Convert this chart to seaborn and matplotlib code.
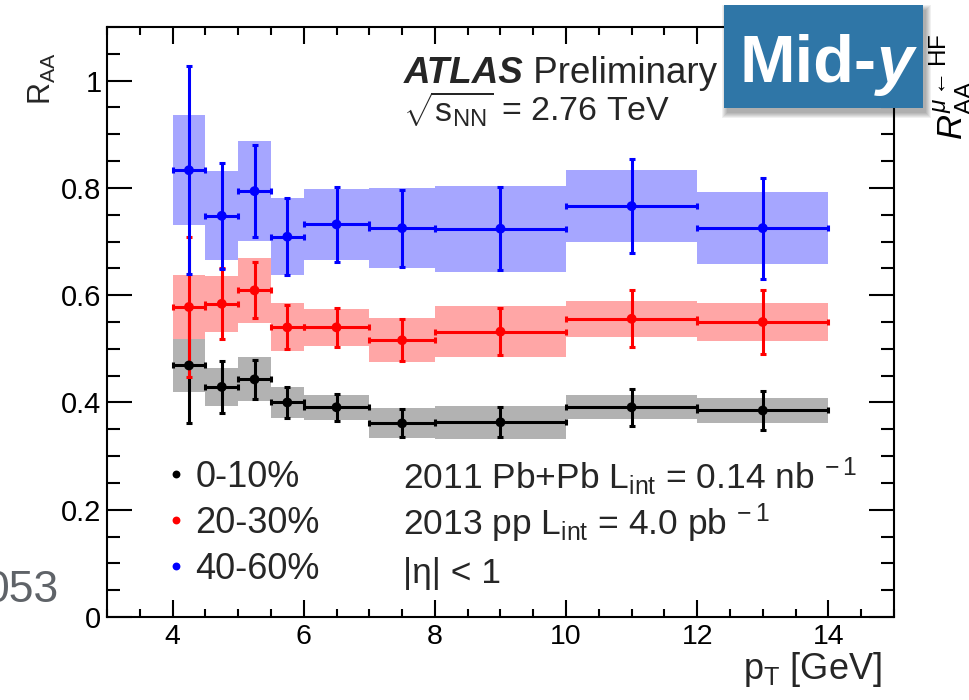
import numpy as np
import pandas as pd
import matplotlib
matplotlib.use("Agg")
import matplotlib.pyplot as plt
from matplotlib.patches import Rectangle
from matplotlib.text import Annotation
from matplotlib.ticker import MultipleLocator, FuncFormatter
import seaborn as sns

# pT bin edges [GeV]
pt_edges = [4.0, 4.5, 5.0, 5.5, 6.0, 7.0, 8.0, 10.0, 12.0, 14.0]

centralities = ["0-10%", "20-30%", "40-60%"]
colors = ["black", "red", "blue"]
box_alpha = [0.30, 0.35, 0.35]

# R_AA values with statistical and systematic uncertainties
raa_0_10 = [0.469, 0.429, 0.443, 0.400, 0.391, 0.361, 0.363, 0.391, 0.385]
stat_0_10 = [0.107, 0.048, 0.036, 0.029, 0.025, 0.026, 0.028, 0.035, 0.037]
syst_0_10 = [0.049, 0.036, 0.041, 0.029, 0.023, 0.028, 0.031, 0.022, 0.024]

raa_20_30 = [0.578, 0.584, 0.609, 0.540, 0.540, 0.516, 0.532, 0.556, 0.550]
stat_20_30 = [0.130, 0.066, 0.052, 0.041, 0.037, 0.039, 0.044, 0.053, 0.059]
syst_20_30 = [0.060, 0.052, 0.060, 0.045, 0.034, 0.041, 0.047, 0.034, 0.036]

raa_40_60 = [0.833, 0.748, 0.794, 0.709, 0.732, 0.725, 0.724, 0.766, 0.725]
stat_40_60 = [0.194, 0.099, 0.086, 0.072, 0.070, 0.072, 0.077, 0.088, 0.094]
syst_40_60 = [0.103, 0.083, 0.093, 0.072, 0.066, 0.075, 0.080, 0.067, 0.067]

y_ticks = [0, 0.2, 0.4, 0.6, 0.8, 1.0]
x_ticks = [4, 6, 8, 10, 12, 14]

values = [raa_0_10, raa_20_30, raa_40_60]
stats = [stat_0_10, stat_20_30, stat_40_60]
systs = [syst_0_10, syst_20_30, syst_40_60]

edges = np.array(pt_edges)
centers = 0.5 * (edges[:-1] + edges[1:])
widths = edges[1:] - edges[:-1]

df = pd.concat(
    [pd.DataFrame({"pT": centers, "RAA": v, "Centrality": c})
     for v, c in zip(values, centralities)],
    ignore_index=True,
)

sns.set_theme(style="ticks")
plt.rcParams["font.family"] = ["Liberation Sans", "DejaVu Sans"]
plt.rcParams["mathtext.fontset"] = "custom"
plt.rcParams["mathtext.rm"] = "Liberation Sans"
plt.rcParams["mathtext.it"] = "Liberation Sans:italic"
plt.rcParams["mathtext.bf"] = "Liberation Sans:bold"
plt.rcParams["axes.linewidth"] = 1.5

fig = plt.figure(figsize=(9.7, 7.0), dpi=100)
ax = fig.add_axes([0.1103, 0.1186, 0.8113, 0.8428])

# systematic uncertainty boxes
for v, s, col, a in zip(values, systs, colors, box_alpha):
    v = np.array(v)
    s = np.array(s)
    ax.bar(centers, 2 * s, bottom=v - s, width=widths, color=col,
           alpha=a, linewidth=0, zorder=1)

# statistical error bars
for i, (v, e, col) in enumerate(zip(values, stats, colors)):
    ax.errorbar(centers, v, xerr=widths / 2, yerr=e, fmt="none",
                ecolor=col, elinewidth=2.2, capsize=2.2, capthick=2.2,
                zorder=3 + i)

sns.scatterplot(data=df, x="pT", y="RAA", hue="Centrality",
                hue_order=centralities, palette=dict(zip(centralities, colors)),
                s=50, linewidth=0, zorder=8, ax=ax)

ax.set_xlim(3, 15)
ax.set_ylim(0, 1.1)
ax.set_xticks(x_ticks)
ax.set_yticks(y_ticks)
ax.xaxis.set_minor_locator(MultipleLocator(0.5))
ax.yaxis.set_minor_locator(MultipleLocator(0.05))
ax.yaxis.set_major_formatter(FuncFormatter(lambda v, p: f"{v:g}"))
ax.tick_params(axis="both", which="both", direction="in", top=True,
               right=True, width=1.5, colors="black")
ax.tick_params(axis="x", which="major", length=12, pad=5, labelsize=20.5)
ax.tick_params(axis="x", which="minor", length=6)
ax.tick_params(axis="y", which="major", length=18, pad=4, labelsize=21)
ax.tick_params(axis="y", which="minor", length=9.4)
for sp in ax.spines.values():
    sp.set_color("black")
    sp.set_linewidth(1.5)

ax.set_xlabel(r"p$_{\mathrm{T}}$ [GeV]", fontsize=26, loc="right")
ax.xaxis.set_label_coords(0.985, -0.056)
ax.set_ylabel(r"R$_{\mathrm{AA}}$", fontsize=22, loc="top")
ax.yaxis.set_label_coords(-0.062, 0.958)

sns.move_legend(ax, "center left", bbox_to_anchor=(0.0759, 0.159),
                frameon=False, title=None, fontsize=26, handlelength=0.5,
                handletextpad=0.3, labelspacing=0.30, borderpad=0,
                borderaxespad=0, markerscale=0.8)

# experiment labels
t_atlas = ax.text(0.377, 0.905, "ATLAS", transform=ax.transAxes, fontsize=26.5,
                  fontweight="bold", fontstyle="italic", va="baseline")
ax.annotate(" Preliminary", xy=(1, 0), xycoords=t_atlas, va="bottom",
            ha="left", fontsize=26.5)
ax.text(0.376, 0.839, r"$\sqrt{\mathrm{s}_{\mathrm{NN}}}$ = 2.76 TeV",
        transform=ax.transAxes, fontsize=24.5, va="baseline")
ax.text(0.376, 0.217, r"2011 Pb+Pb L$_{\mathrm{int}}$ = 0.14 nb$^{\;-1}$",
        transform=ax.transAxes, fontsize=25.5, va="baseline")
ax.text(0.376, 0.139, r"2013 pp L$_{\mathrm{int}}$ = 4.0 pb$^{\;-1}$",
        transform=ax.transAxes, fontsize=25.5, va="baseline")
ax.text(0.376, 0.058, "|η| < 1", transform=ax.transAxes, fontsize=25.5,
        va="baseline")

# neighbouring slide content
fig.text(0.0598, 0.14, "053", ha="right", va="baseline", fontsize=32,
         color="#5f6368")
fig.text(928 / 970, 0.80, r"$R^{\mu\leftarrow\mathrm{HF}}_{\mathrm{AA}}$",
         rotation=90, ha="left", va="bottom", fontsize=25, color="black")

# "Mid-y" badge with soft shadow
bx, by, bw, bh = 724 / 970, 1 - 108 / 700, 199 / 970, 103 / 700
for k in range(6):
    grow = k * 1.0
    fig.add_artist(Rectangle((bx + (3 - grow) / 970, by - (5 + grow) / 700),
                             bw + 2 * grow / 970, bh + 2 * grow / 700,
                             transform=fig.transFigure, color="black",
                             alpha=0.06, linewidth=0, zorder=9))
fig.add_artist(Rectangle((bx, by), bw, bh, transform=fig.transFigure,
                         color="#2f76a7", linewidth=0, zorder=10))
t_mid = fig.text(740 / 970, 1 - 82 / 700, "Mid-", color="white",
                 fontsize=48, fontweight="bold", va="baseline", zorder=11)
fig.add_artist(Annotation("y", xy=(1, 0), xycoords=t_mid, va="bottom",
                          ha="left", color="white", fontsize=48,
                          fontweight="bold", fontstyle="italic", zorder=11,
                          annotation_clip=False))

fig.savefig("out.png", dpi=100)
